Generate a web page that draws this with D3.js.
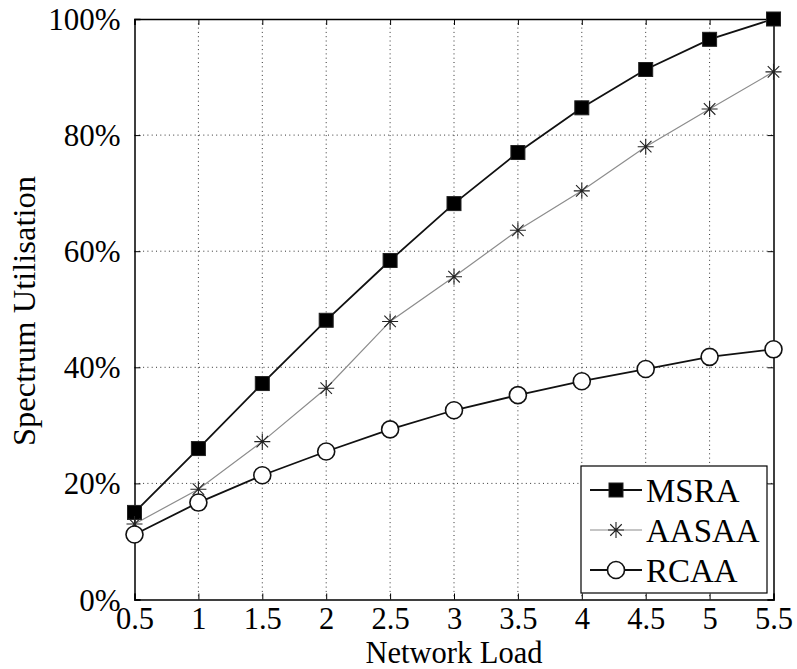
<!DOCTYPE html>
<html>
<head>
<meta charset="utf-8">
<script src="https://cdn.jsdelivr.net/npm/d3@7"></script>
<style>
  body { margin: 0; background: #fff; }
  svg, text { font-family: "Liberation Serif", "Times New Roman", Times, serif; fill: #000; }
</style>
</head>
<body>
<svg id="chart" width="797" height="669"></svg>
<script>
// network load values on the x axis
var loads = [0.5, 1, 1.5, 2, 2.5, 3, 3.5, 4, 4.5, 5, 5.5];
// spectrum utilisation (%) for each scheme
var msra  = [15, 26, 37.2, 48.1, 58.4, 68.2, 77, 84.7, 91.3, 96.5, 100];
var aasaa = [13, 19, 27.2, 36.4, 47.9, 55.6, 63.6, 70.4, 78, 84.5, 90.9];
var rcaa  = [11.2, 16.7, 21.4, 25.5, 29.3, 32.6, 35.2, 37.6, 39.7, 41.8, 43.1];
var seriesNames = ['MSRA', 'AASAA', 'RCAA'];
var yTicks = [0, 20, 40, 60, 80, 100];

var FONT = '"Liberation Serif", "Times New Roman", Times, serif';

var svg = d3.select('#chart'),
    margin = {top: 19, right: 23.5, bottom: 69.5, left: 134.5},
    width = 797 - margin.left - margin.right,
    height = 669 - margin.top - margin.bottom,
    g = svg.append('g').attr('transform', 'translate(' + margin.left + ',' + margin.top + ')');

var x = d3.scaleLinear().domain([0.5, 5.5]).range([0, width]);
var y = d3.scaleLinear().domain([0, 100]).range([height, 0]);

// dotted grid
g.selectAll('.vgrid').data(loads.slice(1, -1)).enter().append('line')
    .attr('x1', d => x(d)).attr('x2', d => x(d))
    .attr('y1', 0).attr('y2', height)
    .attr('stroke', '#333').attr('stroke-width', 1)
    .attr('stroke-dasharray', '1,3.3');
g.selectAll('.hgrid').data(yTicks.slice(1, -1)).enter().append('line')
    .attr('x1', 0).attr('x2', width)
    .attr('y1', d => y(d)).attr('y2', d => y(d))
    .attr('stroke', '#333').attr('stroke-width', 1)
    .attr('stroke-dasharray', '1,3.3');

// axes with inward ticks on all four sides
var fmtPct = d => d + '%';
var xb = g.append('g').attr('transform', 'translate(0,' + height + ')')
    .call(d3.axisBottom(x).tickValues(loads).tickSize(-6).tickPadding(12).tickFormat(d3.format('')));
var xt = g.append('g')
    .call(d3.axisTop(x).tickValues(loads).tickSize(-6).tickFormat(''));
var yl = g.append('g')
    .call(d3.axisLeft(y).tickValues(yTicks).tickSize(-6).tickPadding(14).tickFormat(fmtPct));
var yr = g.append('g').attr('transform', 'translate(' + width + ',0)')
    .call(d3.axisRight(y).tickValues(yTicks).tickSize(-6).tickFormat(''));

[xb, xt, yl, yr].forEach(function(a) {
    a.attr('font-family', FONT).attr('font-size', 31);
    a.select('.domain').attr('stroke', '#000').attr('stroke-width', 1.5);
    a.selectAll('.tick line').attr('stroke', '#000').attr('stroke-width', 1);
    a.selectAll('text').attr('font-family', FONT).attr('font-size', 31).attr('fill', '#000');
});
yl.selectAll('text').attr('dy', '0.34em');
xb.selectAll('text').attr('y', 0).attr('dy', 29).attr('font-size', 30.5);

// line series
var line = d3.line().x((d, i) => x(loads[i])).y(d => y(d));

g.append('path').datum(aasaa).attr('d', line)
    .attr('fill', 'none').attr('stroke', '#8c8c8c').attr('stroke-width', 1.2);
g.append('path').datum(msra).attr('d', line)
    .attr('fill', 'none').attr('stroke', '#111').attr('stroke-width', 1.8);
g.append('path').datum(rcaa).attr('d', line)
    .attr('fill', 'none').attr('stroke', '#111').attr('stroke-width', 1.8);

// markers
function drawSquare(sel, cx, cy) {
    sel.append('rect').attr('x', cx - 7).attr('y', cy - 7)
        .attr('width', 14).attr('height', 14)
        .attr('fill', '#000').attr('stroke', '#222').attr('stroke-width', 1);
}
function drawStar(sel, cx, cy) {
    var r = 8, d = r * 0.72;
    var p = 'M' + (cx - r) + ',' + cy + 'H' + (cx + r) +
            'M' + cx + ',' + (cy - r) + 'V' + (cy + r) +
            'M' + (cx - d) + ',' + (cy - d) + 'L' + (cx + d) + ',' + (cy + d) +
            'M' + (cx - d) + ',' + (cy + d) + 'L' + (cx + d) + ',' + (cy - d);
    sel.append('path').attr('d', p).attr('stroke', '#222').attr('stroke-width', 1.1).attr('fill', 'none');
}
function drawCircle(sel, cx, cy) {
    sel.append('circle').attr('cx', cx).attr('cy', cy).attr('r', 8.5)
        .attr('fill', '#fff').attr('stroke', '#111').attr('stroke-width', 1.6);
}

msra.forEach((v, i) => drawSquare(g, x(loads[i]), y(v)));
aasaa.forEach((v, i) => drawStar(g, x(loads[i]), y(v)));
rcaa.forEach((v, i) => drawCircle(g, x(loads[i]), y(v)));

// legend
var lg = svg.append('g').attr('transform', 'translate(581,466)');
lg.append('rect').attr('width', 186).attr('height', 127)
    .attr('fill', '#fff').attr('stroke', '#000').attr('stroke-width', 1.2);
var legendStyles = [
    {stroke: '#111', w: 1.8, mark: drawSquare},
    {stroke: '#8c8c8c', w: 1.2, mark: drawStar},
    {stroke: '#111', w: 1.8, mark: drawCircle}
];
seriesNames.forEach(function(name, i) {
    var cy = 24 + i * 40;
    lg.append('line').attr('x1', 9).attr('x2', 61).attr('y1', cy).attr('y2', cy)
        .attr('stroke', legendStyles[i].stroke).attr('stroke-width', legendStyles[i].w);
    legendStyles[i].mark(lg, 35, cy);
    lg.append('text').attr('x', 65).attr('y', cy + 11.5)
        .attr('font-family', FONT).attr('font-size', 33).text(name);
});

// axis titles
svg.append('text')
    .attr('x', margin.left + width / 2).attr('y', 662.5)
    .attr('text-anchor', 'middle').attr('font-family', FONT).attr('font-size', 30.5)
    .text('Network Load');
svg.append('text')
    .attr('transform', 'translate(35,311) rotate(-90)')
    .attr('text-anchor', 'middle').attr('font-family', FONT).attr('font-size', 32.5)
    .text('Spectrum Utilisation');
</script>
</body>
</html>
